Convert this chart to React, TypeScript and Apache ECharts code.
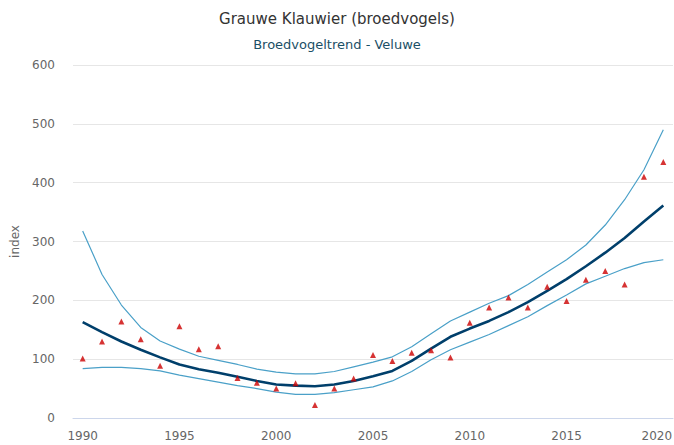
import React, { useEffect, useRef } from "react";
import * as echarts from "echarts";

const years = Array.from({ length: 31 }, (_, i) => String(1990 + i));
const trend = [163, 146, 130, 116, 103, 91, 83, 77, 70, 63, 57, 55, 54, 57, 63, 71, 80, 97, 118, 138, 152, 165, 180, 197, 216, 236, 258, 281, 306, 334, 361];
const upper = [318, 244, 192, 154, 131, 117, 105, 98, 91, 83, 78, 75, 75, 79, 87, 95, 104, 121, 143, 165, 180, 195, 208, 227, 248, 269, 294, 328, 371, 422, 490];
const lower = [84, 86, 86, 84, 80, 73, 67, 61, 55, 50, 44, 40, 40, 43, 48, 53, 63, 79, 99, 116, 129, 142, 157, 172, 191, 209, 228, 241, 254, 264, 269];
const observed = [101, 130, 164, 134, 89, 156, 117, 122, 68, 60, 50, 59, 22, 50, 67, 107, 97, 111, 115, 103, 162, 188, 205, 188, 223, 199, 235, 250, 227, 410, 435];
const yTicks = [0, 100, 200, 300, 400, 500, 600];

export default function App() {
  const ref = useRef<HTMLDivElement>(null);
  useEffect(() => {
    if (!ref.current) return;
    const chart = echarts.init(ref.current, null, { renderer: "svg" });
    const font = "DejaVu Sans";
    const every5 = (i: number) => i % 5 === 0;
    const lastYear = years[years.length - 1];
    chart.setOption({
      animation: false,
      title: [
        {
          text: "Grauwe Klauwier (broedvogels)",
          left: "center",
          top: 6,
          textStyle: { fontFamily: font, fontSize: 15, fontWeight: "normal", color: "#333333" },
        },
        {
          text: "Broedvogeltrend - Veluwe",
          left: "center",
          top: 33,
          textStyle: { fontFamily: font, fontSize: 13, fontWeight: "normal", color: "#1a4f66" },
        },
      ],
      grid: { left: 73, right: 1, top: 65, bottom: 27, containLabel: false, outerBoundsMode: "none" },
      xAxis: {
        type: "category",
        data: years,
        boundaryGap: true,
        axisLine: { lineStyle: { color: "#ccd6eb", width: 1 } },
        axisTick: { alignWithLabel: true, interval: (i: number) => every5(i), length: 10, lineStyle: { color: "#ccd6eb" } },
        axisLabel: {
          interval: (i: number) => every5(i),
          color: "#666666",
          fontFamily: font,
          fontSize: 12,
          margin: 12,
          hideOverlap: false,
          formatter: (v: string) => (v === lastYear ? "{last|" + v + "}" : v),
          rich: {
            last: { color: "#666666", fontFamily: font, fontSize: 12, padding: [0, 13, 0, 0] },
          },
        },
        splitLine: { show: false },
      },
      yAxis: {
        type: "value",
        min: yTicks[0],
        max: yTicks[yTicks.length - 1],
        interval: 100,
        name: "index",
        nameLocation: "middle",
        nameGap: 52,
        nameTextStyle: { color: "#666666", fontFamily: font, fontSize: 12 },
        axisLine: { show: false },
        axisTick: { show: false },
        axisLabel: { color: "#666666", fontFamily: font, fontSize: 12, margin: 18 },
        splitLine: { lineStyle: { color: "#e6e6e6", width: 1 } },
      },
      series: [
        {
          type: "line",
          data: upper,
          showSymbol: false,
          lineStyle: { color: "#4aa0c8", width: 1.2 },
          z: 2,
        },
        {
          type: "line",
          data: lower,
          showSymbol: false,
          lineStyle: { color: "#4aa0c8", width: 1.2 },
          z: 2,
        },
        {
          type: "line",
          data: trend,
          showSymbol: false,
          lineStyle: { color: "#003f6b", width: 2.6 },
          z: 3,
        },
        {
          type: "scatter",
          data: observed,
          symbol: "triangle",
          symbolSize: 6,
          itemStyle: { color: "#cc0000" },
          z: 4,
        },
      ],
    });
    return () => chart.dispose();
  }, []);
  return <div ref={ref} style={{ width: 674, height: 445, position: "absolute", left: 0, top: 0 }} />;
}
